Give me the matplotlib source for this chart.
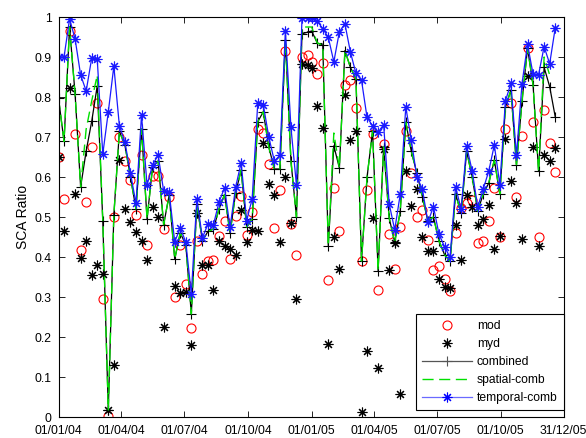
import numpy as np
import matplotlib
matplotlib.use('Agg')
import matplotlib.pyplot as plt
from datetime import date, timedelta

plt.rcParams['font.family'] = ['Liberation Sans', 'DejaVu Sans']

nan = np.nan

# 8-day composite start days (day of year), used for both years
doy = [1, 9, 17, 25, 33, 41, 49, 57, 65, 73, 81, 89, 97, 105, 113, 121,
       129, 137, 145, 153, 161, 169, 177, 185, 193, 201, 209, 217, 225,
       233, 241, 249, 257, 265, 273, 281, 289, 297, 305, 313, 321, 329,
       337, 345, 353, 361]
years = [2004, 2005]

mod = [0.651, 0.545, 0.965, 0.707, 0.4175, 0.537, 0.676, 0.784, 0.294, 0.003,
       0.50, 0.70, 0.641, 0.593, 0.506, 0.655, 0.43, 0.603, 0.603, 0.47,
       0.55, 0.299, 0.43, 0.3325, 0.2225, 0.439, 0.3575, 0.389, 0.393, 0.452,
       0.489, 0.396, 0.503, 0.553, 0.456, 0.512, 0.72, 0.709, 0.633, 0.472,
       0.567, 0.914, 0.482, 0.406, 0.899, 0.905,
       0.888, 0.858, 0.884, 0.3425, 0.572, 0.464, 0.831, 0.8425, 0.772, 0.391,
       0.5675, 0.708, 0.3175, 0.6825, 0.457, 0.371, 0.476, 0.716, 0.609, 0.50,
       0.5175, 0.4425, 0.3675, 0.378, 0.345, 0.314, 0.459, 0.5225, 0.534, 0.5425,
       0.434, 0.441, 0.489, 0.5725, 0.45, 0.721, 0.784, 0.551, 0.703, 0.9225,
       0.738, 0.449, 0.7675, 0.684, 0.612, nan]

myd = [0.651, 0.464, 0.8225, 0.5575, 0.3975, 0.441, 0.354, 0.381, 0.358, 0.0175,
       0.131, 0.6425, 0.52, 0.487, 0.462, 0.44, 0.3925, 0.525, 0.50, 0.225,
       nan, 0.327, 0.311, 0.312, 0.179, 0.51, 0.381, 0.381, 0.3175, 0.44,
       0.428, 0.42, 0.406, 0.517, 0.437, 0.468, 0.465, 0.686, 0.582, 0.554,
       0.437, 0.60, 0.485, 0.296, 0.883, 0.88,
       0.873, 0.777, 0.723, 0.183, 0.45, 0.37, 0.805, 0.6925, 0.714, 0.0115,
       0.166, 0.4975, 0.123, 0.67, 0.367, 0.435, 0.058, 0.614, 0.528, 0.57,
       0.451, 0.414, 0.414, 0.345, 0.326, 0.322, 0.481, 0.392, 0.554, 0.526,
       0.48, 0.494, 0.531, 0.42, 0.453, 0.696, 0.589, 0.536, 0.445, 0.853,
       0.675, 0.428, 0.656, 0.64, 0.672, nan]

combined = [0.797, 0.689, 0.975, 0.807, 0.575, 0.665, 0.739, 0.828, 0.491, 0.0175,
            0.505, 0.714, 0.68, 0.60, 0.52, 0.72, 0.495, 0.625, 0.64, 0.481,
            0.555, 0.395, 0.46, 0.431, 0.2575, 0.5325, 0.44, 0.464, 0.47, 0.52,
            0.556, 0.46, 0.56, 0.6175, 0.475, 0.495, 0.738, 0.763, 0.675, 0.62,
            0.62, 0.9425, 0.64, 0.50, 0.958, 0.962,
            0.965, 0.935, 0.93, 0.428, 0.678, 0.6225, 0.916, 0.874, 0.845, 0.39,
            0.599, 0.715, 0.366, 0.675, 0.4975, 0.437, 0.514, 0.737, 0.664, 0.61,
            0.551, 0.49, 0.50, 0.44, 0.406, 0.389, 0.5575, 0.509, 0.664, 0.60,
            0.515, 0.5575, 0.585, 0.6425, 0.5575, 0.774, 0.8175, 0.631, 0.789, 0.9225,
            0.83, 0.614, 0.874, 0.826, 0.751, nan]

spatial = [0.797, 0.689, 0.975, 0.807, 0.575, 0.72, 0.79, 0.855, 0.491, 0.0175,
           0.505, 0.714, 0.68, 0.60, 0.52, 0.72, 0.495, 0.625, 0.64, 0.481,
           0.555, 0.395, 0.46, 0.431, 0.2575, 0.5325, 0.44, 0.464, 0.47, 0.52,
           0.556, 0.46, 0.56, 0.6175, 0.475, 0.495, 0.738, 0.763, 0.675, 0.62,
           0.62, 0.9425, 0.64, 0.50, 0.975, 0.975,
           0.975, 0.935, 0.93, 0.428, 0.71, 0.6225, 0.916, 0.874, 0.845, 0.39,
           0.599, 0.715, 0.366, 0.675, 0.4975, 0.437, 0.514, 0.737, 0.664, 0.61,
           0.551, 0.49, 0.50, 0.44, 0.406, 0.389, 0.5575, 0.509, 0.664, 0.60,
           0.515, 0.5575, 0.585, 0.6425, 0.5575, 0.774, 0.8175, 0.631, 0.789, 0.9225,
           0.83, 0.614, 0.90, 0.855, nan, nan]

temporal = [0.90, 0.90, 0.995, 0.945, 0.855, 0.815, 0.897, 0.895, 0.657, 0.763,
            0.877, 0.728, 0.687, 0.61, 0.534, 0.755, 0.58, 0.63, 0.655, 0.565,
            0.562, 0.438, 0.4725, 0.4375, 0.3075, 0.546, 0.4475, 0.4825, 0.481, 0.537,
            0.573, 0.474, 0.574, 0.636, 0.491, 0.546, 0.784, 0.781, 0.70, 0.64,
            0.654, 0.965, 0.724, 0.579, 0.998, 0.997,
            0.997, 0.99, 0.971, 0.949, 0.888, 0.963, 0.983, 0.912, 0.859, 0.842,
            0.749, 0.728, 0.712, 0.731, 0.533, 0.468, 0.557, 0.775, 0.692, 0.60,
            0.57, 0.487, 0.526, 0.457, 0.426, 0.399, 0.575, 0.52, 0.677, 0.615,
            0.525, 0.57, 0.615, 0.68, 0.58, 0.79, 0.834, 0.654, 0.833, 0.932,
            0.857, 0.856, 0.926, 0.883, 0.972, nan]

tick_dates = [date(2004, 1, 1), date(2004, 4, 1), date(2004, 7, 1), date(2004, 10, 1),
              date(2005, 1, 1), date(2005, 4, 1), date(2005, 7, 1), date(2005, 10, 1),
              date(2005, 12, 31)]

dates = [date(y, 1, 1) + timedelta(d - 1) for y in years for d in doy]

# asterisk like matlab's '*'
star = (8, 2, 0)

fig = plt.figure(figsize=(5.86, 4.38), dpi=100)
ax = fig.add_axes([58.5 / 586, 21 / 438, 505 / 586, 400 / 438])

ax.plot(dates, mod, 'o', color='r', mfc='none', ms=6.5, mew=0.8, label='mod')
ax.plot(dates, myd, ls='none', marker=star, color='k', ms=7, mew=0.8, label='myd')
ax.plot(dates, combined, '-', color='k', lw=0.9, marker='+', ms=7, mew=0.8,
        label='combined')
ax.plot(dates, spatial, color='#00e000', lw=1.0, dashes=(8, 4), label='spatial-comb')
ax.plot(dates, temporal, '-', color='#1a1aff', lw=0.9, marker=star, ms=7, mew=0.8,
        label='temporal-comb')

ax.set_xlim(date(2004, 1, 1), date(2005, 12, 31))
ax.set_ylim(0, 1)
ax.set_xticks(tick_dates)
ax.set_xticklabels([d.strftime('%d/%m/%y') for d in tick_dates])
ax.set_yticks(np.arange(0, 1.01, 0.1))
ax.set_yticklabels(['0', '0.1', '0.2', '0.3', '0.4', '0.5', '0.6', '0.7', '0.8', '0.9', '1'])
ax.tick_params(direction='in', top=True, right=True, length=4, width=0.6,
               labelsize=8.7)
ax.tick_params(axis='x', pad=6)
ax.tick_params(axis='y', pad=5)
for sp in ax.spines.values():
    sp.set_linewidth(0.8)

ax.set_ylabel('SCA Ratio', fontsize=10, labelpad=3)

leg = ax.legend(loc='lower right', bbox_to_anchor=(1.0, 0.0175), borderaxespad=0,
                fontsize=8.7, handlelength=4.2, handletextpad=0.35,
                labelspacing=0.5, borderpad=0.5, numpoints=1,
                fancybox=False, framealpha=1, edgecolor='k')
leg.get_frame().set_linewidth(0.8)
leg.legend_handles[2].set_color('#555555')
leg.legend_handles[4].set_color('#6a6aff')
leg.legend_handles[4].set_markeredgecolor('b')

fig.savefig('out.png', dpi=100)
